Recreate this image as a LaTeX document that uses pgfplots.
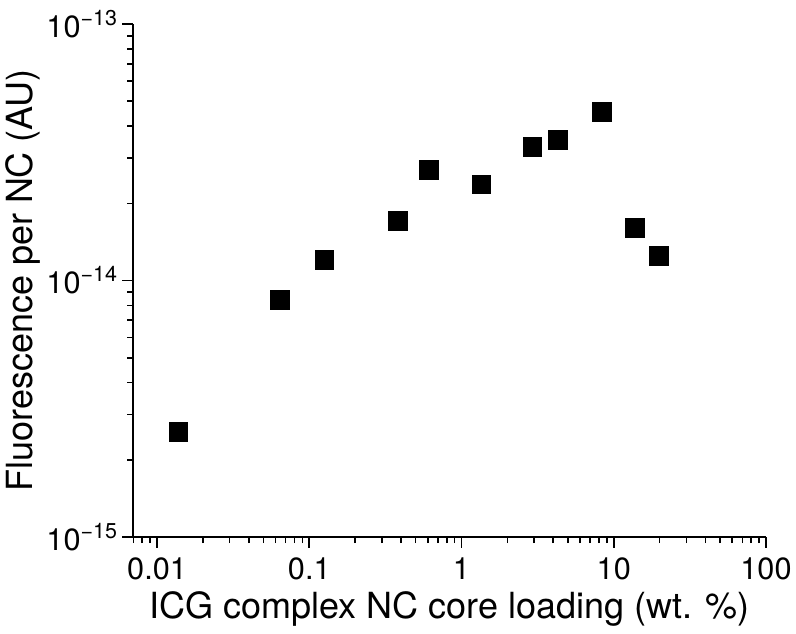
\documentclass[border=0pt]{standalone}
\usepackage{pgfplots}
\pgfplotsset{compat=1.18}
\usepackage{fontspec}
\setmainfont{TeX Gyre Heros}

\begin{document}
\begin{tikzpicture}
\begin{axis}[
    xmode=log, ymode=log,
    scale only axis,
    width=474.75pt, height=384.75pt,
    xmin=0.00695, xmax=100,
    ymin=1e-15, ymax=1e-13,
    axis x line*=bottom,
    axis y line*=left,
    axis line style={line width=1.5pt},
    every tick/.style={black, line width=1.2pt},
    tick align=outside,
    major tick length=8pt,
    minor tick length=4.5pt,
    xtick={0.01,0.1,1,10,100},
    xticklabels={0.01,0.1,1,10,100},
    minor xtick={0.007,0.008,0.009,0.02,0.03,0.04,0.05,0.06,0.07,0.08,0.09,
                 0.2,0.3,0.4,0.5,0.6,0.7,0.8,0.9,2,3,4,5,6,7,8,9,
                 20,30,40,50,60,70,80,90},
    ytick={1e-15,1e-14,1e-13},
    yticklabels={10\textsuperscript{−15},10\textsuperscript{−14},10\textsuperscript{−13}},
    minor ytick={2e-15,3e-15,4e-15,5e-15,6e-15,7e-15,8e-15,9e-15,
                 2e-14,3e-14,4e-14,5e-14,6e-14,7e-14,8e-14,9e-14},
    ticklabel style={font=\fontsize{23pt}{25pt}\selectfont},
    xticklabel style={yshift=-4pt},
    label style={font=\fontsize{27pt}{30pt}\selectfont},
    xlabel={ICG complex NC core loading (wt. \%)},
    ylabel={Fluorescence per NC (AU)},
    xlabel style={yshift=-2pt},
    ylabel style={yshift=-2pt},
    clip=false,
]
\addplot[only marks, mark=square*, mark size=7pt, black] coordinates {
    (0.0138, 2.57e-15)
    (0.0643, 8.39e-15)
    (0.1256, 1.205e-14)
    (0.381, 1.71e-14)
    (0.610, 2.70e-14)
    (1.35, 2.37e-14)
    (2.92, 3.32e-14)
    (4.28, 3.53e-14)
    (8.34, 4.55e-14)
    (13.8, 1.61e-14)
    (19.7, 1.246e-14)
};
\end{axis}
\path (current axis.south west) ++(-133*0.75pt,-97*0.75pt) rectangle ++(796*0.75pt,634*0.75pt);
\end{tikzpicture}
\end{document}
